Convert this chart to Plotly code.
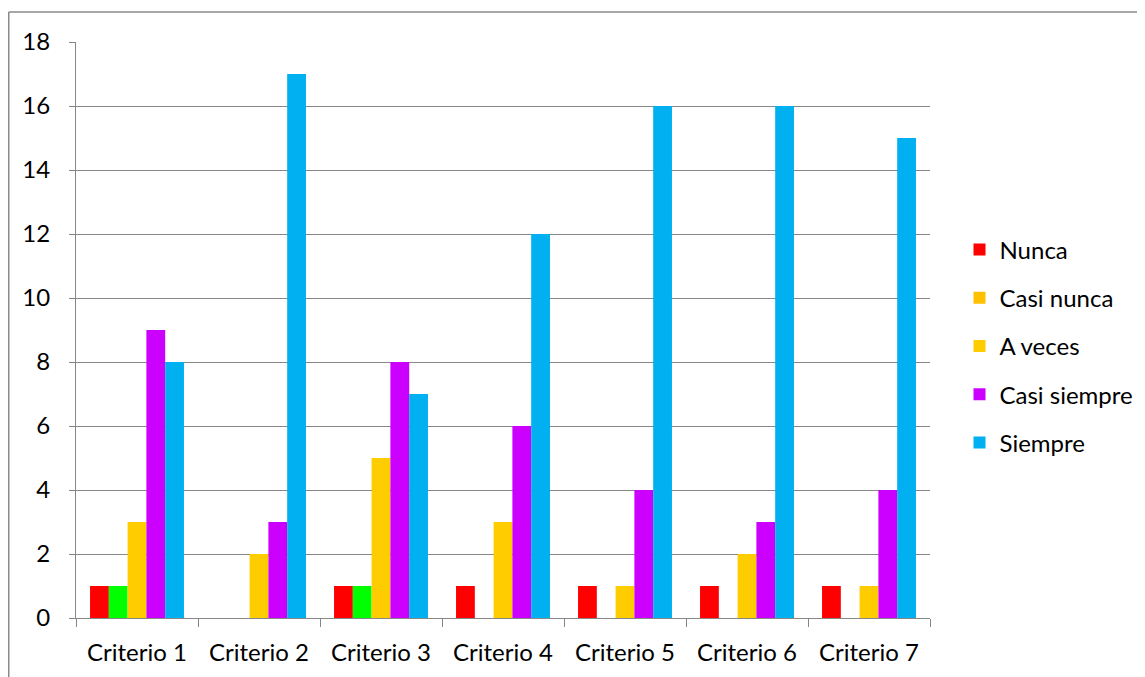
import plotly.graph_objects as go

categories = ["Criterio 1", "Criterio 2", "Criterio 3", "Criterio 4", "Criterio 5", "Criterio 6", "Criterio 7"]
nunca = [1, 0, 1, 1, 1, 1, 1]
casi_nunca = [1, 0, 1, 0, 0, 0, 0]
a_veces = [3, 2, 5, 3, 1, 2, 1]
casi_siempre = [9, 3, 8, 6, 4, 3, 4]
siempre = [8, 17, 7, 12, 16, 16, 15]
series_names = ["Nunca", "Casi nunca", "A veces", "Casi siempre", "Siempre"]
colors = ["#FF0000", "#FFC000", "#FFCC00", "#CC00FF", "#00B0F0"]
casi_nunca_point_colors = ["#00FF00", "#FFC000", "#00FF00", "#FFC000", "#FFC000", "#FFC000", "#FFC000"]

# page body has an 8px margin, so the figure sits at (8, 8) in the window
OFF = 8
W, H = 1145 - OFF, 677 - OFF
L, R, T, B = 76 - OFF, 930 - OFF, 42 - OFF, 618 - OFF

fig = go.Figure()
fig.add_trace(go.Bar(x=categories, y=nunca, name=series_names[0], marker_color=colors[0],
                     marker_line_width=0, legendgroup="a"))
fig.add_trace(go.Bar(x=categories, y=casi_nunca, name=series_names[1], marker_color=casi_nunca_point_colors,
                     marker_line_width=0, showlegend=False))
fig.add_trace(go.Scatter(x=[None], y=[None], mode="markers", name=series_names[1],
                         marker=dict(symbol="square", size=12, color=colors[1]), legendgroup="b"))
fig.add_trace(go.Bar(x=categories, y=a_veces, name=series_names[2], marker_color=colors[2],
                     marker_line_width=0, legendgroup="c"))
fig.add_trace(go.Bar(x=categories, y=casi_siempre, name=series_names[3], marker_color=colors[3],
                     marker_line_width=0, legendgroup="d"))
fig.add_trace(go.Bar(x=categories, y=siempre, name=series_names[4], marker_color=colors[4],
                     marker_line_width=0, legendgroup="e"))

grid = "#878787"
pw, ph = R - L, B - T
fig.update_layout(
    width=W, height=H,
    margin=dict(l=L, r=W - R, t=T, b=H - B, pad=0, autoexpand=False),
    paper_bgcolor="white", plot_bgcolor="white",
    barmode="group", bargap=0.23, bargroupgap=0,
    font=dict(family="Lato, 'Open Sans', sans-serif", size=24, color="black"),
    legend=dict(x=1 + 29.5 / pw, xanchor="left", y=(B - (346 - OFF)) / ph, yanchor="middle",
                tracegroupgap=14, font=dict(size=24), itemwidth=30,
                bgcolor="rgba(0,0,0,0)"),
    showlegend=True,
)
fig.update_xaxes(showgrid=False, showline=True, linecolor=grid, linewidth=1,
                 ticks="outside", tickson="boundaries", ticklen=8, tickcolor=grid,
                 ticklabelstandoff=13, zeroline=False, automargin=False)
fig.update_yaxes(range=[0, 18], dtick=2, showgrid=True, gridcolor=grid, gridwidth=1,
                 showline=True, linecolor=grid, linewidth=1, ticks="outside", ticklen=6,
                 tickcolor=grid, ticklabelstandoff=14, zeroline=False, automargin=False)

# outer chart frame (only top and left edges visible in the window)
x0 = (0.75 - L) / pw
y0 = (B - (12 - OFF)) / ph
x1 = (W + 10 - L) / pw
ybot = (B - H - 10) / ph
fig.add_shape(type="line", xref="paper", yref="paper", x0=x0, x1=x1, y0=y0, y1=y0,
              line=dict(color="#8a8a8a", width=1.5))
fig.add_shape(type="line", xref="paper", yref="paper", x0=x0, x1=x0, y0=y0, y1=ybot,
              line=dict(color="#8a8a8a", width=1.5))

fig.write_html("out.html")
